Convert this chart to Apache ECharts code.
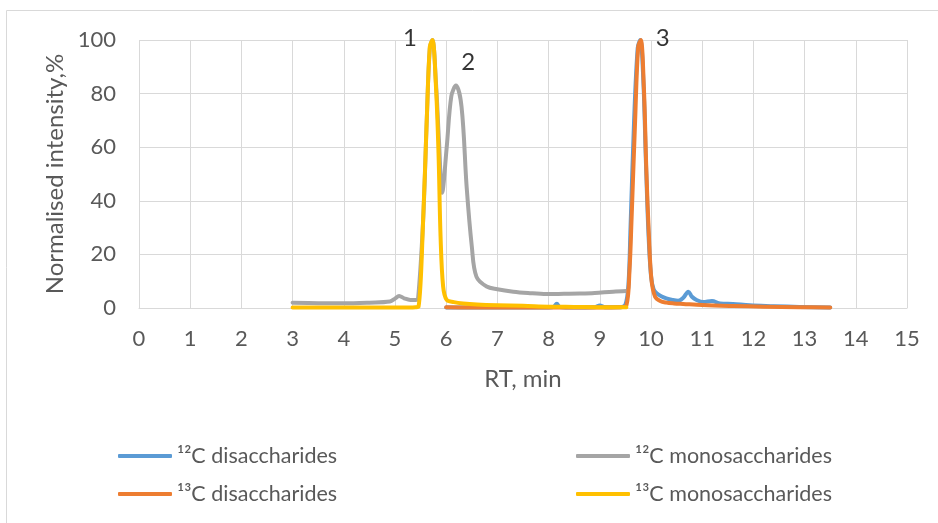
<!DOCTYPE html>
<html>
<head>
<meta charset="utf-8">
<script src="https://cdn.jsdelivr.net/npm/echarts@6/dist/echarts.min.js"></script>
<style>
  html, body { margin: 0; padding: 0; background: #fff; }
  #chart { width: 938px; height: 523px; }
</style>
</head>
<body>
<div id="chart"></div>
<script>
// RT (min) and normalised intensity (%)
const di12X = [6.0, 6.5, 7.0, 7.5, 8.0, 8.1, 8.16, 8.22, 8.5, 8.9, 9.0, 9.1, 9.4, 9.5, 9.56, 9.6, 9.67, 9.74, 9.79, 9.85, 9.9, 9.95, 10.0, 10.05, 10.11, 10.2, 10.3, 10.42, 10.53, 10.63, 10.73, 10.8, 10.89, 11.02, 11.19, 11.35, 11.6, 11.93, 12.4, 12.9, 13.5];
const di12Y = [0.2, 0.2, 0.2, 0.2, 0.2, 0.4, 1.6, 0.4, 0.2, 0.3, 0.9, 0.3, 0.3, 1.2, 9, 30, 70, 97, 100, 85, 55, 28, 12, 7, 5.5, 4.4, 3.6, 3.0, 2.7, 3.8, 6.1, 4.2, 3.0, 2.2, 2.6, 1.7, 1.5, 1.0, 0.7, 0.4, 0.2];

const di13X = [6.0, 6.5, 7.0, 7.5, 8.0, 8.5, 9.0, 9.4, 9.52, 9.58, 9.62, 9.69, 9.75, 9.8, 9.86, 9.91, 9.96, 10.01, 10.08, 10.18, 10.3, 10.45, 10.63, 11.0, 11.6, 12.2, 12.9, 13.5];
const di13Y = [0.3, 0.2, 0.2, 0.2, 0.2, 0.2, 0.2, 0.3, 1, 14, 33, 70, 97.5, 100, 82.6, 51, 26.6, 10.4, 4.2, 2.6, 2.0, 1.7, 1.5, 1.1, 0.75, 0.5, 0.3, 0.2];

const mono12X = [3.0, 3.5, 4.0, 4.5, 4.9, 5.0, 5.08, 5.18, 5.3, 5.4, 5.45, 5.55, 5.62, 5.68, 5.73, 5.8, 5.86, 5.92, 6.01, 6.1, 6.19, 6.3, 6.4, 6.5, 6.59, 6.79, 7.0, 7.31, 7.6, 7.96, 8.3, 8.61, 8.9, 9.26, 9.52];
const mono12Y = [2.0, 1.8, 1.75, 2.0, 2.4, 3.5, 4.5, 3.6, 3.0, 3.0, 3.4, 33, 70, 97, 100, 84, 62, 43, 60, 79, 83, 75, 45, 23, 11.7, 8.0, 7.0, 6.1, 5.6, 5.2, 5.3, 5.4, 5.6, 6.1, 6.3];

const mono13X = [3.0, 3.5, 4.0, 4.5, 5.0, 5.3, 5.4, 5.46, 5.55, 5.62, 5.68, 5.73, 5.8, 5.85, 5.89, 5.94, 6.01, 6.15, 6.33, 6.6, 7.0, 7.5, 8.0, 8.5, 9.0, 9.52];
const mono13Y = [0.2, 0.2, 0.2, 0.2, 0.2, 0.2, 0.3, 0.5, 33, 70, 97.5, 100, 82.6, 57.7, 26.6, 8, 3, 2.2, 1.7, 1.3, 1.0, 0.8, 0.5, 0.4, 0.3, 0.3];

const seriesNames = ['\u00B9\u00B2C disaccharides', '\u00B9\u00B2C monosaccharides', '\u00B9\u00B3C disaccharides', '\u00B9\u00B3C monosaccharides'];
const seriesColors = ['#5B9BD5', '#A5A5A5', '#ED7D31', '#FFC000'];

const peakNames = ['1', '2', '3'];
const peakX = [5.29, 6.43, 10.23];
const peakY = [100.7, 91.8, 100.7];

const xTicks = { min: 0, max: 15, step: 1 };
const yTicks = { min: 0, max: 100, step: 20 };

function zip(xs, ys) {
  return xs.map((x, i) => [x, ys[i]]);
}

const chart = echarts.init(document.getElementById('chart'), null, { renderer: 'canvas' });

const textColor = '#595959';
const gridColor = '#D9D9D9';
const fontFamily = 'Lato, "Noto Sans", sans-serif';

function lineSeries(idx, data) {
  return {
    name: seriesNames[idx],
    type: 'line',
    data: data,
    showSymbol: false,
    symbol: 'none',
    smooth: 0.35,
    lineStyle: { color: seriesColors[idx], width: 4, join: 'round', cap: 'round' },
    itemStyle: { color: seriesColors[idx] },
    z: 2 + idx
  };
}

const legendText = { color: textColor, fontSize: 21.5, lineHeight: 24, fontFamily: fontFamily };

chart.setOption({
  animation: false,
  textStyle: { fontFamily: fontFamily },
  grid: { left: 139, right: 31, top: 40, bottom: 215 },
  graphic: [{
    type: 'rect',
    shape: { x: 6.5, y: 10.5, width: 945, height: 530 },
    style: { fill: 'none', stroke: gridColor, lineWidth: 1 },
    silent: true
  }],
  legend: [
    {
      orient: 'vertical',
      left: 118, top: 444,
      padding: 0,
      itemGap: 14,
      itemWidth: 54, itemHeight: 4,
      icon: 'roundRect',
      data: [seriesNames[0], seriesNames[2]],
      textStyle: legendText
    },
    {
      orient: 'vertical',
      left: 576, top: 444,
      padding: 0,
      itemGap: 14,
      itemWidth: 54, itemHeight: 4,
      icon: 'roundRect',
      data: [seriesNames[1], seriesNames[3]],
      textStyle: legendText
    }
  ],
  xAxis: {
    type: 'value',
    min: xTicks.min, max: xTicks.max, interval: xTicks.step,
    name: 'RT, min',
    nameLocation: 'middle',
    nameGap: 59,
    nameTextStyle: { color: textColor, fontSize: 24, fontFamily: fontFamily },
    axisLine: { show: true, lineStyle: { color: gridColor, width: 1 } },
    axisTick: { show: false },
    axisLabel: { color: textColor, fontSize: 22, margin: 20, fontFamily: fontFamily },
    splitLine: { show: true, lineStyle: { color: gridColor, width: 1 } }
  },
  yAxis: {
    type: 'value',
    min: yTicks.min, max: yTicks.max, interval: yTicks.step,
    name: 'Normalised intensity,%',
    nameLocation: 'middle',
    nameGap: 69,
    nameTextStyle: { color: textColor, fontSize: 24, fontFamily: fontFamily },
    axisLine: { show: false },
    axisTick: { show: false },
    axisLabel: { color: textColor, fontSize: 22, margin: 23, fontFamily: fontFamily },
    splitLine: { show: true, lineStyle: { color: gridColor, width: 1 } }
  },
  series: [
    lineSeries(0, zip(di12X, di12Y)),
    lineSeries(1, zip(mono12X, mono12Y)),
    lineSeries(2, zip(di13X, di13Y)),
    lineSeries(3, zip(mono13X, mono13Y)),
    {
      name: 'peaks',
      type: 'scatter',
      symbolSize: 0,
      clip: false,
      silent: true,
      data: peakNames.map((n, i) => ({ value: [peakX[i], peakY[i]], name: n })),
      label: {
        show: true,
        position: 'inside',
        formatter: p => p.name,
        color: '#000',
        fontSize: 24,
        fontFamily: fontFamily
      },
      z: 10
    }
  ]
});
</script>
</body>
</html>
